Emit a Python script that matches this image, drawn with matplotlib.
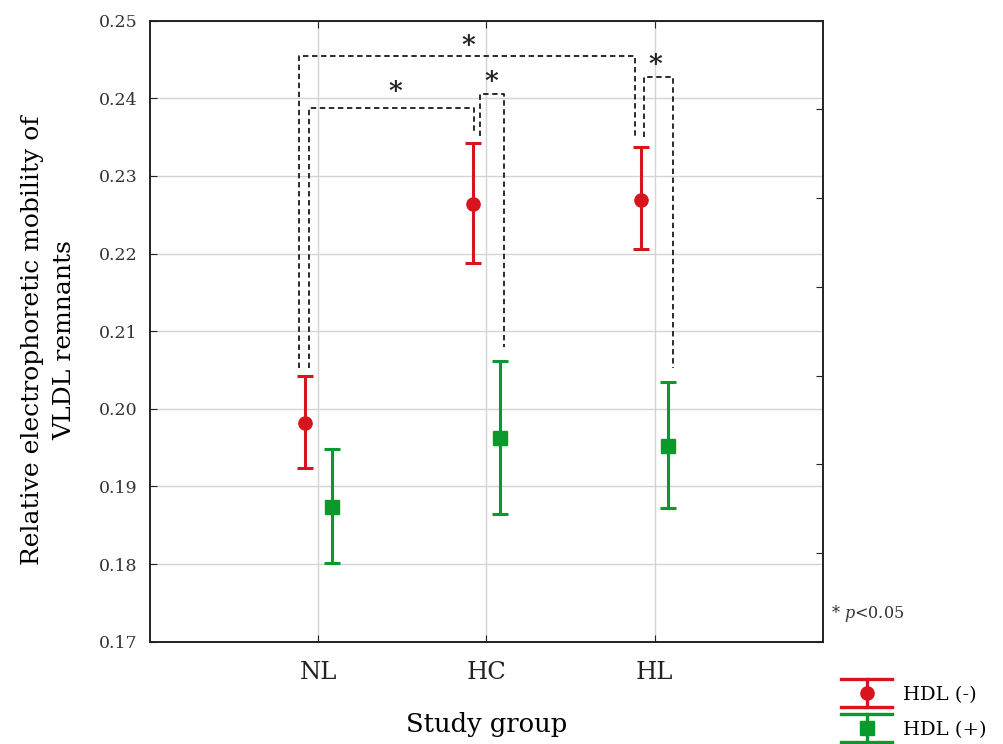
import numpy as np
import matplotlib
matplotlib.use("Agg")
import matplotlib.pyplot as plt
from matplotlib.legend_handler import HandlerBase
from matplotlib.container import ErrorbarContainer
from matplotlib.lines import Line2D

plt.rcParams['font.family'] = ['DejaVu Serif']
plt.rcParams['mathtext.fontset'] = 'dejavuserif'

# data (mean with lower / upper whisker)
groups = ['NL', 'HC', 'HL']
hdl_neg_mean = [0.1982, 0.2264, 0.2269]
hdl_neg_low = [0.1924, 0.2188, 0.2206]
hdl_neg_high = [0.2042, 0.2343, 0.2337]
hdl_pos_mean = [0.1873, 0.1962, 0.1952]
hdl_pos_low = [0.1802, 0.1865, 0.1872]
hdl_pos_high = [0.1948, 0.2061, 0.2035]

red = '#d8141c'
green = '#0a9a2c'

# significance brackets: (x left, x right, y top, y left end, y right end, star x, star y)
brackets = [
    (-0.113, 1.883, 0.2454, 0.2053, 0.2350, 0.893, 0.2468),
    (-0.054, 0.924, 0.2387, 0.2053, 0.2354, 0.458, 0.2409),
    (0.960, 1.103, 0.2406, 0.2352, 0.2079, 1.028, 0.2422),
    (1.940, 2.109, 0.2427, 0.2350, 0.2053, 2.006, 0.2443),
]

fig = plt.figure(figsize=(10.04, 7.44), dpi=100)
ax = fig.add_axes([0.1494, 0.1375, 0.6700, 0.8347])

x = np.arange(len(groups))
off = 0.08

def draw(xpos, mean, low, high, color, marker, ms, label):
    mean = np.array(mean)
    yerr = [mean - np.array(low), np.array(high) - mean]
    return ax.errorbar(xpos, mean, yerr=yerr, fmt=marker, color=color, ms=ms,
                       mec=color, mfc=color, elinewidth=2.2, capsize=6, capthick=2.2,
                       label=label, zorder=3)

eb1 = draw(x - off, hdl_neg_mean, hdl_neg_low, hdl_neg_high, red, 'o', 9.5, 'HDL (-)')
eb2 = draw(x + off, hdl_pos_mean, hdl_pos_low, hdl_pos_high, green, 's', 10.5, 'HDL (+)')

for xl, xr, yt, yl, yr, sx, sy in brackets:
    ax.plot([xl, xl, xr, xr], [yl, yt, yt, yr], color='#1a1a1a', lw=1.3,
            ls=(0, (3, 2)), zorder=2)
    ax.text(sx, sy, '*', ha='center', va='center', fontsize=19, color='#222222',
            fontweight='bold')

ax.set_xlim(-1, 3)
ax.set_ylim(0.17, 0.25)
ax.set_xticks(x)
ax.set_xticklabels(groups)
ax.set_yticks(np.arange(0.17, 0.2501, 0.01))
ax.set_yticklabels(['%.2f' % v for v in np.arange(0.17, 0.2501, 0.01)])
ax.grid(True, color='#d4d4d4', lw=1.0)
ax.set_axisbelow(True)
ax.tick_params(axis='y', direction='in', length=5, labelsize=12.5, pad=9,
               right=False, colors='#222222', labelcolor='#333333')
ax.tick_params(axis='x', direction='in', length=5, labelsize=17.5, pad=14,
               top=True, colors='#222222')
for s in ax.spines.values():
    s.set_linewidth(1.4)
    s.set_color('#222222')

ax2 = ax.twinx()
ax2.set_ylim(0, 7)
ax2.set_yticks(range(8))
ax2.set_yticklabels([])
ax2.tick_params(axis='y', direction='in', length=5, colors='#222222')
for s in ax2.spines.values():
    s.set_visible(False)

ax.set_xlabel('Study group', fontsize=18.5, labelpad=20)
ax.set_ylabel('Relative electrophoretic mobility of\nVLDL remnants', fontsize=18,
              linespacing=1.5)
ax.yaxis.set_label_coords(-0.110, 0.485)

ax.text(1.012, 0.045, r'* $\it{p}$<0.05', transform=ax.transAxes, fontsize=11.5,
        ha='left', va='center', color='#333333')


class ErrHandler(HandlerBase):
    def create_artists(self, legend, orig_handle, xdescent, ydescent, width,
                       height, fontsize, trans):
        line = orig_handle.lines[0]
        c = line.get_color()
        cx = width / 2 - xdescent
        cy = height / 2 - ydescent
        h = 0.72 * fontsize
        top = Line2D([-xdescent, width - xdescent], [cy + h, cy + h], color=c, lw=2.4)
        bot = Line2D([-xdescent, width - xdescent], [cy - h, cy - h], color=c, lw=2.4)
        vert = Line2D([cx, cx], [cy - h, cy + h], color=c, lw=2.4)
        mk = Line2D([cx], [cy], marker=line.get_marker(), color=c, ms=line.get_markersize(),
                    ls='none')
        arts = [top, bot, vert, mk]
        for a in arts:
            a.set_transform(trans)
        return arts


fig.legend(handles=[eb1, eb2], labels=['HDL (-)', 'HDL (+)'],
           handler_map={ErrorbarContainer: ErrHandler()},
           loc='upper left', bbox_to_anchor=(0.838, 0.078), frameon=False,
           fontsize=14, handlelength=2.6, handletextpad=0.55, labelspacing=0.86,
           borderpad=0, borderaxespad=0)

fig.savefig('out.png', dpi=100)
